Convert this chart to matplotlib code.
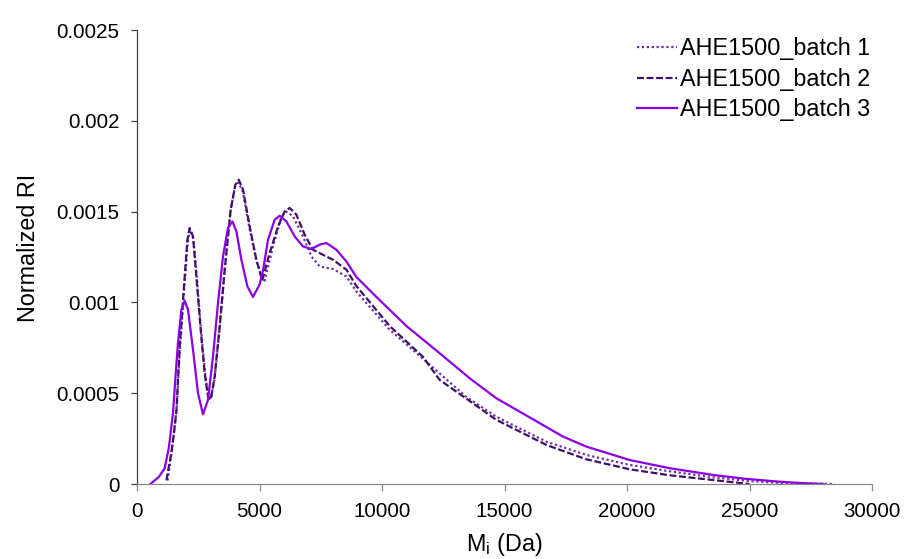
import matplotlib
matplotlib.use("Agg")
import matplotlib.pyplot as plt

plt.rcParams['font.family'] = ['Liberation Sans', 'DejaVu Sans']
plt.rcParams['mathtext.fontset'] = 'custom'
plt.rcParams['mathtext.rm'] = 'Liberation Sans'
plt.rcParams['mathtext.it'] = 'Liberation Sans:italic'

# Molar mass (Da) and normalized RI signal per batch
batch1_m = [1250, 1420, 1620, 1760, 1930, 2070, 2160, 2300, 2440, 2610, 2770, 2900,
            3010, 3170, 3370, 3570, 3810, 4000, 4140, 4320, 4590, 4870, 5070, 5212,
            5551, 5894, 6098, 6367, 6776, 7118, 7457, 8000, 8547, 8955, 10310, 11670,
            13440, 14670, 16710, 18340, 20110, 21743, 23510, 25000, 26230, 27500, 28480]
batch1_ri = [0.00002, 0.00018, 0.00042, 0.00076, 0.00108, 0.00133, 0.00140, 0.00135,
             0.00114, 0.00085, 0.00062, 0.00049, 0.00047, 0.00058, 0.00086, 0.00117,
             0.00150, 0.00164, 0.00166, 0.00161, 0.00141, 0.00123, 0.00115, 0.00112,
             0.001308, 0.001474, 0.00150, 0.001474, 0.001363, 0.001253, 0.001198,
             0.001184, 0.001143, 0.00106, 0.00085, 0.00069, 0.00048, 0.00037, 0.000233,
             0.00016, 0.000105, 0.00007, 0.000037, 0.000016, 0.0000065, 0.000002, 0.0]

batch2_m = [1200, 1400, 1500, 1608, 1743, 1918, 2057, 2151, 2286, 2424, 2600, 2763,
            2898, 3008, 3171, 3376, 3580, 3824, 4016, 4151, 4327, 4600, 4873, 5110,
            5416, 5755, 6029, 6233, 6506, 6845, 7184, 7592, 8000, 8547, 8955, 10314,
            11673, 12355, 13444, 14669, 16710, 18340, 20110, 21743, 23510, 25000]
batch2_ri = [0.00002, 0.00017, 0.00027, 0.00040, 0.000757, 0.001088, 0.001345, 0.00141,
             0.001363, 0.001143, 0.000849, 0.00061, 0.000481, 0.000463, 0.000592,
             0.000867, 0.00118, 0.00151, 0.001648, 0.001676, 0.001621, 0.001418,
             0.001235, 0.00112, 0.001272, 0.001418, 0.001501, 0.00152, 0.001483,
             0.001373, 0.00129, 0.001262, 0.001235, 0.00118, 0.00109, 0.00087, 0.00070,
             0.000573, 0.00047, 0.000353, 0.000215, 0.000136, 0.000081, 0.000048,
             0.000022, 0.0]

batch3_m = [550, 900, 1130, 1300, 1469, 1608, 1673, 1812, 1947, 2082, 2286, 2490,
            2694, 2898, 3102, 3306, 3510, 3714, 3894, 4057, 4261, 4506, 4735, 5008,
            5150, 5347, 5620, 5824, 6098, 6437, 6776, 7118, 7457, 7731, 8139, 8547,
            8955, 9771, 10996, 12355, 13600, 14669, 16437, 17388, 18340, 20110, 21743,
            23510, 24873, 26233, 27000, 28000]
batch3_ri = [0.0, 0.00004, 0.000087, 0.00020, 0.00039, 0.00066, 0.000776, 0.00096,
             0.001009, 0.00096, 0.000739, 0.00050, 0.000384, 0.000463, 0.000702,
             0.000996, 0.001253, 0.00141, 0.001446, 0.001391, 0.001235, 0.001088,
             0.00103, 0.00110, 0.00118, 0.001345, 0.001455, 0.001477, 0.001446,
             0.001363, 0.001308, 0.001294, 0.001318, 0.001327, 0.00129, 0.001225,
             0.00114, 0.00103, 0.00087, 0.00072, 0.00058, 0.000472, 0.000335, 0.000261,
             0.000206, 0.000132, 0.000087, 0.00005, 0.000028, 0.0000127, 0.000006, 0.0]

labels = ["AHE1500_batch 1", "AHE1500_batch 2", "AHE1500_batch 3"]
x_ticks = [0, 5000, 10000, 15000, 20000, 25000, 30000]
y_ticks = [0, 0.0005, 0.001, 0.0015, 0.002, 0.0025]
y_tick_labels = ["0", "0.0005", "0.001", "0.0015", "0.002", "0.0025"]

fs = 14.8
title_fs = 16.8
fig = plt.figure(figsize=(9.22, 5.59), dpi=100)
ax = fig.add_axes([137 / 922, 1 - 484 / 559, (872 - 137) / 922, (484 - 30) / 559])

ax.plot(batch1_m, batch1_ri, color='#7030A0', lw=1.6, linestyle=(0, (1, 1.2)),
        label=labels[0], solid_joinstyle='round')
ax.plot(batch2_m, batch2_ri, color='#3F0F6E', lw=1.6, linestyle=(0, (3.1, 1.2)),
        label=labels[1], solid_joinstyle='round')
ax.plot(batch3_m, batch3_ri, color='#8C00E6', lw=1.6, linestyle='-',
        label=labels[2], solid_joinstyle='round')

ax.set_xlim(0, 30000)
ax.set_ylim(0, 0.0025)
ax.set_xticks(x_ticks)
ax.set_xticklabels([str(v) for v in x_ticks])
ax.set_yticks(y_ticks)
ax.set_yticklabels(y_tick_labels)

for side in ('top', 'right'):
    ax.spines[side].set_visible(False)
ax.spines['left'].set_color('#404040')
ax.spines['bottom'].set_color('#8a8a8a')
ax.spines['left'].set_linewidth(0.9)
ax.spines['bottom'].set_linewidth(0.9)
ax.tick_params(axis='y', direction='out', length=4, width=0.9, color='#404040',
               labelsize=fs, pad=8.5, labelcolor='#000000')
ax.tick_params(axis='x', direction='out', length=5, width=0.9, color='#8a8a8a',
               labelsize=fs, pad=8, labelcolor='#000000')

ax.set_ylabel("Normalized RI", fontsize=title_fs)
ax.yaxis.set_label_coords(-0.132, 0.52)
ax.set_xlabel(r"M$_\mathrm{i}$ (Da)", fontsize=title_fs, labelpad=7)

ax.legend(loc='upper left', bbox_to_anchor=(637 / 922, 1 - 37 / 559),
          bbox_transform=fig.transFigure, frameon=False, fontsize=title_fs,
          handlelength=1.7, handletextpad=0.13, labelspacing=0.33,
          borderpad=0, borderaxespad=0)

fig.savefig("out.png", dpi=100)
